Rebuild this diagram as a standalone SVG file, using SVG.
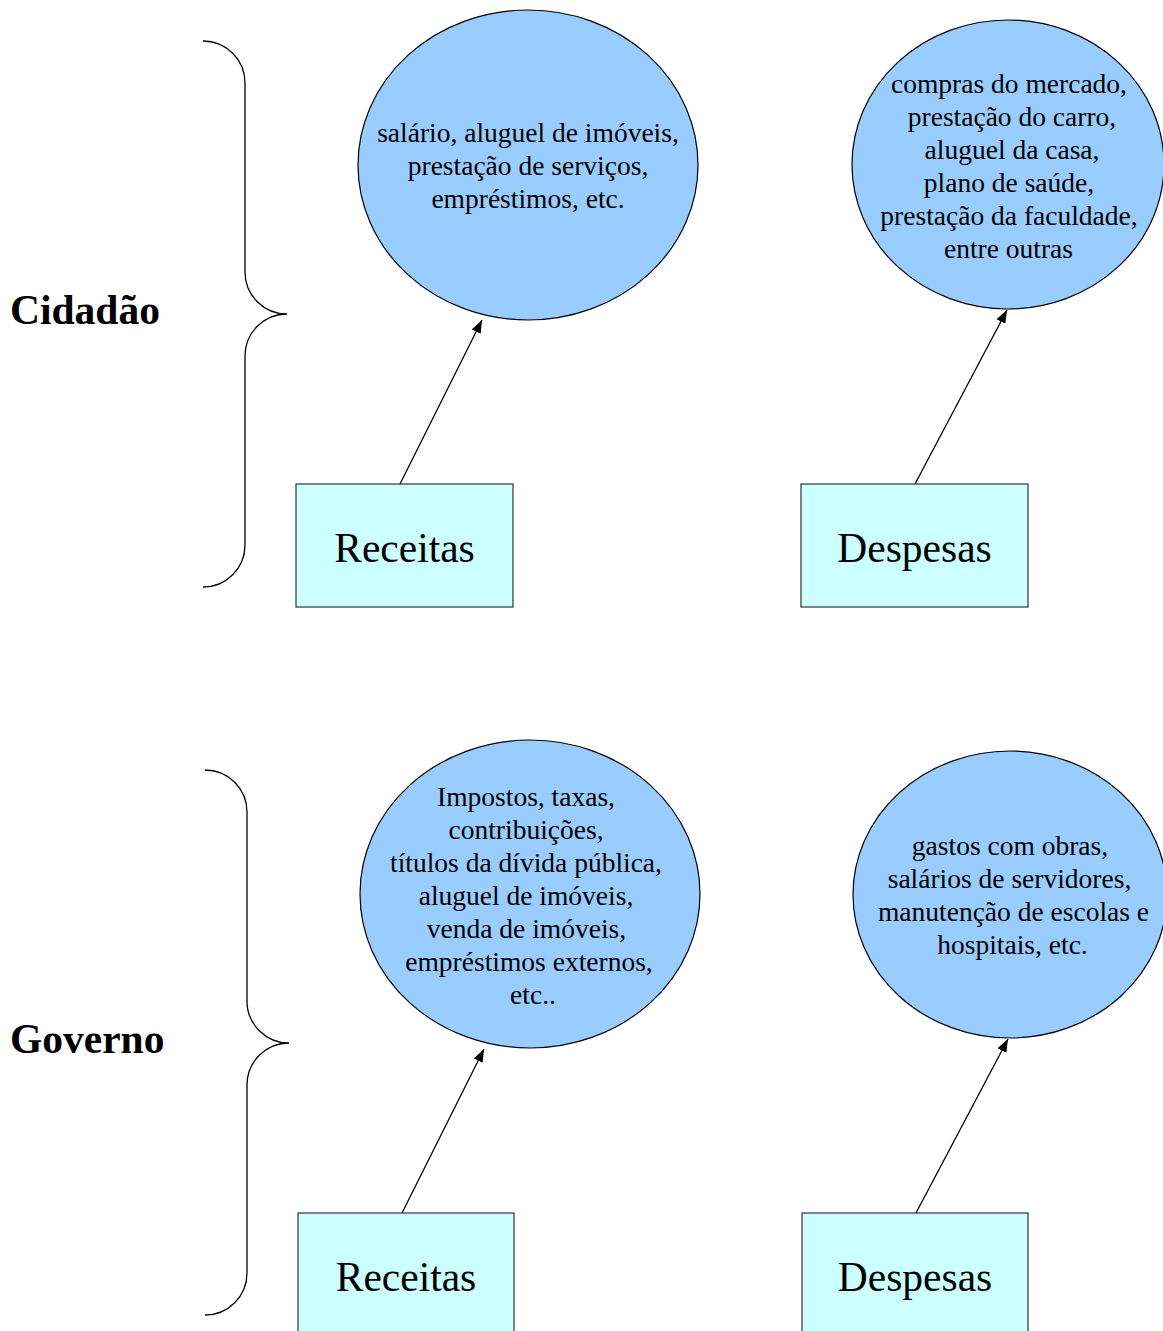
<svg xmlns="http://www.w3.org/2000/svg" width="1163" height="1331" viewBox="0 0 1163 1331">
  <style>
    .bg { fill: #ffffff; }
    .bubble { fill: #99ccff; stroke: #000000; stroke-width: 1.2; }
    .box { fill: #ccffff; stroke: #333333; stroke-width: 1.2; }
    .brace { fill: none; stroke: #000000; stroke-width: 1.3; }
    .edge { fill: none; stroke: #000000; stroke-width: 1.3; }
    .small { font-family: "Liberation Serif", "Times New Roman", serif; font-size: 27.5px; fill: #000000; text-anchor: middle; }
    .label { font-family: "Liberation Serif", "Times New Roman", serif; font-size: 41.5px; fill: #000000; text-anchor: middle; }
    .title { font-family: "Liberation Serif", "Times New Roman", serif; font-size: 41.5px; font-weight: bold; fill: #000000; }
  </style>
  <defs>
    <marker id="arrow" viewBox="0 0 13 10" refX="13" refY="5" markerWidth="13" markerHeight="10" markerUnits="userSpaceOnUse" orient="auto">
      <path d="M0,0 L13,5 L0,10 Z" fill="#000000"/>
    </marker>
  </defs>

  <rect class="bg" x="0" y="0" width="1163" height="1331"/>

  <!-- Section titles and their braces -->
  <g id="cidadao">
    <text class="title" x="10" y="324">Cidadão</text>
    <path class="brace" d="M203,41 A42,42 0 0 1 245,83 L245,272 A42,42 0 0 0 287,314 A42,42 0 0 0 245,356 L245,545 A42,42 0 0 1 203,587"/>
  </g>
  <g id="governo">
    <text class="title" x="10" y="1053">Governo</text>
    <path class="brace" d="M205,770 A42,42 0 0 1 247,812 L247,1001 A42,42 0 0 0 289,1043 A42,42 0 0 0 247,1085 L247,1273 A42,42 0 0 1 205,1315"/>
  </g>

  <!-- Connectors -->
  <g id="connectors">
    <line class="edge" x1="400" y1="484" x2="482" y2="320" marker-end="url(#arrow)"/>
    <line class="edge" x1="915" y1="484" x2="1007" y2="310" marker-end="url(#arrow)"/>
    <line class="edge" x1="402" y1="1213" x2="484" y2="1049" marker-end="url(#arrow)"/>
    <line class="edge" x1="916" y1="1213" x2="1008" y2="1039" marker-end="url(#arrow)"/>
  </g>

  <!-- Citizen: income -->
  <g id="cid-receitas-itens">
    <ellipse class="bubble" cx="528" cy="165" rx="170" ry="155"/>
    <text class="small" x="528" y="142">salário, aluguel de imóveis,</text>
    <text class="small" x="528" y="175">prestação de serviços,</text>
    <text class="small" x="528" y="208">empréstimos, etc.</text>
  </g>
  <g id="cid-receitas">
    <rect class="box" x="296" y="484" width="217" height="123"/>
    <text class="label" x="404.5" y="562">Receitas</text>
  </g>

  <!-- Citizen: expenses -->
  <g id="cid-despesas-itens">
    <ellipse class="bubble" cx="1008" cy="164.5" rx="156" ry="144.5"/>
    <text class="small" x="1009" y="93">compras do mercado,</text>
    <text class="small" x="1012" y="126">prestação do carro,</text>
    <text class="small" x="1012" y="159">aluguel da casa,</text>
    <text class="small" x="1009" y="192">plano de saúde,</text>
    <text class="small" x="1009" y="225">prestação da faculdade,</text>
    <text class="small" x="1008.5" y="258">entre outras</text>
  </g>
  <g id="cid-despesas">
    <rect class="box" x="801" y="484" width="227" height="123"/>
    <text class="label" x="914.5" y="562">Despesas</text>
  </g>

  <!-- Government: income -->
  <g id="gov-receitas-itens">
    <ellipse class="bubble" cx="530" cy="894" rx="170" ry="154"/>
    <text class="small" x="526" y="806">Impostos, taxas,</text>
    <text class="small" x="526" y="839">contribuições,</text>
    <text class="small" x="526" y="872">títulos da dívida pública,</text>
    <text class="small" x="526" y="905">aluguel de imóveis,</text>
    <text class="small" x="526.5" y="938">venda de imóveis,</text>
    <text class="small" x="529" y="971">empréstimos externos,</text>
    <text class="small" x="533" y="1004">etc..</text>
  </g>
  <g id="gov-receitas">
    <rect class="box" x="298" y="1213" width="216" height="130"/>
    <text class="label" x="406" y="1291">Receitas</text>
  </g>

  <!-- Government: expenses -->
  <g id="gov-despesas-itens">
    <ellipse class="bubble" cx="1010" cy="894.5" rx="157" ry="143.5"/>
    <text class="small" x="1010" y="855">gastos com obras,</text>
    <text class="small" x="1009.5" y="888">salários de servidores,</text>
    <text class="small" x="1013.5" y="921">manutenção de escolas e</text>
    <text class="small" x="1012.5" y="954">hospitais, etc.</text>
  </g>
  <g id="gov-despesas">
    <rect class="box" x="802" y="1213" width="226" height="130"/>
    <text class="label" x="915" y="1291">Despesas</text>
  </g>
</svg>
